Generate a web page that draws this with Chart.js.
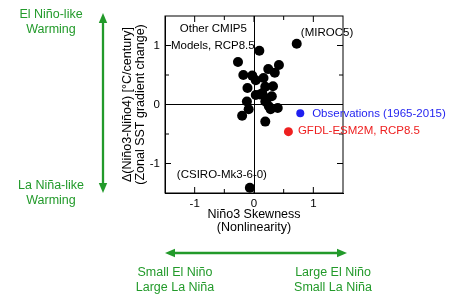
<!DOCTYPE html>
<html>
<head>
<meta charset="utf-8">
<script src="https://cdn.jsdelivr.net/npm/chart.js@4.4.1/dist/chart.umd.min.js"></script>
<style>
  html, body { margin: 0; padding: 0; background: #fff; }
</style>
</head>
<body>
<canvas id="grafico" width="463" height="294"></canvas>
<script>
// Dados
const modelSkew = [0.72, 0.09, -0.27, 0.42, 0.24, -0.18, -0.03, 0.35, 0.16, 0.03, -0.11, 0.19, 0.32, 0.03, 0.14, 0.30, -0.12, 0.19, 0.25, 0.40, -0.09, -0.20, 0.19, -0.07, 0.10, 0.22, 0.28];
const modelGrad = [1.03, 0.91, 0.72, 0.67, 0.60, 0.50, 0.49, 0.54, 0.45, 0.41, 0.28, 0.30, 0.31, 0.16, 0.19, 0.14, 0.05, 0.05, -0.03, -0.06, -0.08, -0.19, -0.29, -1.41, 0.17, 0.10, -0.08];
const obsSkew = [0.78];
const obsGrad = [-0.15];
const gfdlSkew = [0.58];
const gfdlGrad = [-0.46];
const axisMin = -1.5;
const axisMax = 1.5;

const FONT = '"Liberation Sans", Arial, Helvetica, sans-serif';
const VERDE = '#229a2a';

const toPoints = (xs, ys) => xs.map((v, i) => ({ x: v, y: ys[i] }));

// rótulos dentro do gráfico (coordenadas em unidades dos eixos)
const rotulos = [
  { text: 'Other CMIP5', x: -1.25, y: 1.28, color: '#000' },
  { text: 'Models, RCP8.5', x: -1.40, y: 1.00, color: '#000' },
  { text: '(MIROC5)', x: 0.79, y: 1.21, color: '#000' },
  { text: '(CSIRO-Mk3-6-0)', x: -1.30, y: -1.20, color: '#000' },
  { text: 'Observations (1965-2015)', x: 0.98, y: -0.16, color: '#1f1ff0' },
  { text: 'GFDL-ESM2M, RCP8.5', x: 0.74, y: -0.45, color: '#ee2020' }
];

function seta(ctx, x1, y1, x2, y2) {
  const ang = Math.atan2(y2 - y1, x2 - x1);
  const L = 10, W = 4.2;
  ctx.beginPath();
  ctx.moveTo(x1 + L * Math.cos(ang), y1 + L * Math.sin(ang));
  ctx.lineTo(x2 - L * Math.cos(ang), y2 - L * Math.sin(ang));
  ctx.stroke();
  [[x1, y1, ang], [x2, y2, ang + Math.PI]].forEach(([tx, ty, a]) => {
    ctx.beginPath();
    ctx.moveTo(tx, ty);
    ctx.lineTo(tx + L * Math.cos(a) - W * Math.sin(a), ty + L * Math.sin(a) + W * Math.cos(a));
    ctx.lineTo(tx + L * Math.cos(a) + W * Math.sin(a), ty + L * Math.sin(a) - W * Math.cos(a));
    ctx.closePath();
    ctx.fill();
  });
}

const extras = {
  id: 'extras',
  afterDraw(chart) {
    const { ctx, chartArea: a, scales: { x, y } } = chart;
    ctx.save();
    ctx.strokeStyle = '#000';
    ctx.lineWidth = 1;
    ctx.strokeRect(a.left, a.top, a.right - a.left, a.bottom - a.top);

    // ticks para dentro, nos quatro lados
    for (let v = -1; v <= 1; v += 0.5) {
      const len = Number.isInteger(v) ? 6 : 4;
      const px = x.getPixelForValue(v), py = y.getPixelForValue(v);
      ctx.beginPath();
      ctx.moveTo(px, a.bottom); ctx.lineTo(px, a.bottom - len);
      ctx.moveTo(px, a.top); ctx.lineTo(px, a.top + len);
      ctx.moveTo(a.left, py); ctx.lineTo(a.left + len, py);
      ctx.moveTo(a.right, py); ctx.lineTo(a.right - len, py);
      ctx.stroke();
    }

    // rótulos internos
    ctx.font = '11.5px ' + FONT;
    ctx.textBaseline = 'middle';
    ctx.textAlign = 'left';
    rotulos.forEach(r => {
      ctx.fillStyle = r.color;
      ctx.fillText(r.text, x.getPixelForValue(r.x), y.getPixelForValue(r.y));
    });

    // títulos dos eixos
    ctx.fillStyle = '#000';
    ctx.font = '12.5px ' + FONT;
    ctx.textAlign = 'center';
    const cx = (a.left + a.right) / 2;
    ctx.fillText('Niño3 Skewness', cx, 215);
    ctx.fillText('(Nonlinearity)', cx, 228);
    ctx.save();
    ctx.translate(128, (a.top + a.bottom) / 2);
    ctx.rotate(-Math.PI / 2);
    ctx.fillText('Δ(Niño3-Niño4) [°C/century]', 0, 0);
    ctx.fillText('(Zonal SST gradient change)', 0, 13);
    ctx.restore();

    // setas e textos verdes
    ctx.strokeStyle = VERDE;
    ctx.fillStyle = VERDE;
    ctx.lineWidth = 2.3;
    seta(ctx, 103, 13, 103, 193);
    seta(ctx, 165, 253, 347, 253);
    ctx.font = '12.5px ' + FONT;
    ctx.fillText('El Niño-like', 51, 15);
    ctx.fillText('Warming', 51, 30);
    ctx.fillText('La Niña-like', 51, 186);
    ctx.fillText('Warming', 51, 201);
    ctx.fillText('Small El Niño', 175, 273);
    ctx.fillText('Large La Niña', 175, 288);
    ctx.fillText('Large El Niño', 333, 273);
    ctx.fillText('Small La Niña', 333, 288);
    ctx.restore();
  }
};

const eixo = {
  type: 'linear',
  min: axisMin,
  max: axisMax,
  border: { display: true, color: '#000', width: 1 },
  grid: {
    drawTicks: false,
    color: c => (c.tick && c.tick.value === 0 ? '#000' : 'rgba(0,0,0,0)'),
    lineWidth: 1
  }
};

const ctx = document.getElementById('grafico').getContext('2d');
const grafico = new Chart(ctx, {
  type: 'scatter',
  data: {
    datasets: [
      {
        label: 'Observations (1965-2015)',
        data: toPoints(obsSkew, obsGrad),
        backgroundColor: '#1f1ff0',
        borderWidth: 0,
        pointRadius: 4
      },
      {
        label: 'GFDL-ESM2M, RCP8.5',
        data: toPoints(gfdlSkew, gfdlGrad),
        backgroundColor: '#ee2020',
        borderWidth: 0,
        pointRadius: 4.5
      },
      {
        label: 'Other CMIP5 Models, RCP8.5',
        data: toPoints(modelSkew, modelGrad),
        backgroundColor: '#000',
        borderWidth: 0,
        pointRadius: 5
      }
    ]
  },
  options: {
    responsive: false,
    animation: false,
    layout: { padding: { left: 0, right: 120, top: 16, bottom: 0 } },
    plugins: {
      legend: { display: false },
      tooltip: { enabled: false }
    },
    scales: {
      x: {
        ...eixo,
        ticks: {
          stepSize: 0.5,
          padding: 4,
          color: '#000',
          font: { family: FONT, size: 11.5 },
          callback: v => (Number.isInteger(v) ? v : '')
        },
        afterFit: s => { s.height = 101; }
      },
      y: {
        ...eixo,
        ticks: {
          stepSize: 0.5,
          padding: 5,
          color: '#000',
          font: { family: FONT, size: 11.5 },
          callback: v => (Number.isInteger(v) ? v : '')
        },
        afterFit: s => { s.width = 165; }
      }
    }
  },
  plugins: [extras]
});
</script>
</body>
</html>
